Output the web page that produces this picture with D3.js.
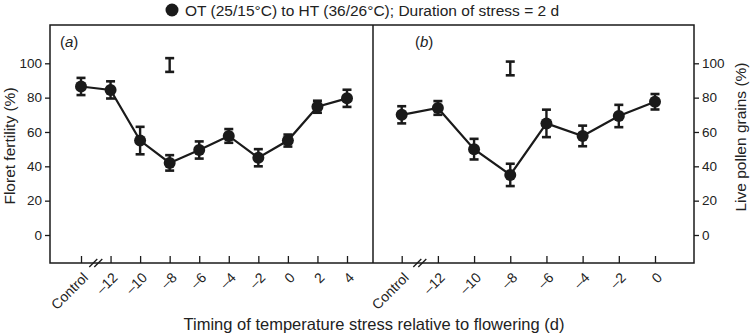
<!DOCTYPE html>
<meta charset="utf-8">
<style>
body { margin: 0; background: #fff; }
svg { font-family: "Liberation Sans", Arial, sans-serif; }
</style>
<body>
<svg width="750" height="334"></svg>
<script src="https://d3js.org/d3.v7.min.js"></script>
<script>
// timing labels and positions (control drawn two days left of -12)
var ticksA = ["Control", "\u201312", "\u201310", "\u20138", "\u20136", "\u20134", "\u20132", "0", "2", "4"];
var daysA = [-14, -12, -10, -8, -6, -4, -2, 0, 2, 4];
var fertility = [86.5, 84.5, 55, 42, 49.5, 57.7, 45, 55, 74.7, 79.6];
var fertilityErr = [5, 5, 8, 4.5, 5, 4, 5, 3.5, 3.5, 5];

var ticksB = ["Control", "\u201312", "\u201310", "\u20138", "\u20136", "\u20134", "\u20132", "0"];
var daysB = [-14, -12, -10, -8, -6, -4, -2, 0];
var pollen = [70, 74, 50, 35, 65, 57.7, 69.3, 77.6];
var pollenErr = [5, 4, 6, 6.5, 8, 6, 6.5, 4.5];

// LSD bars shown above the curves
var lsdA = {day: -8, value: 99, err: 4};
var lsdB = {day: -8, value: 97, err: 4};

var yTicks = [0, 20, 40, 60, 80, 100];

var ink = "#1a1a1a";
var svg = d3.select("svg");

var top_ = 25, bottom = 263, left = 50, mid = 373, right = 694;

var y = d3.scaleLinear().domain([0, 100]).range([235, 63.3]);
var xA = d3.scaleLinear().domain([-14, 4]).range([81, 347]);
var xB = d3.scaleLinear().domain([-14, 0]).range([401.7, 655]);

// frame
svg.append("rect")
    .attr("x", left).attr("y", top_)
    .attr("width", right - left).attr("height", bottom - top_)
    .attr("fill", "none").attr("stroke", ink).attr("stroke-width", 1.5);
svg.append("line")
    .attr("x1", mid).attr("x2", mid).attr("y1", top_).attr("y2", bottom)
    .attr("stroke", ink).attr("stroke-width", 1.5);

// y axes
var yLeft = svg.append("g")
    .attr("transform", "translate(" + left + ",0)")
    .call(d3.axisLeft(y).tickValues(yTicks).tickSize(5).tickPadding(3));
var yRight = svg.append("g")
    .attr("transform", "translate(" + right + ",0)")
    .call(d3.axisRight(y).tickValues(yTicks).tickSize(5).tickPadding(3));
[yLeft, yRight].forEach(function(g) {
  g.select(".domain").remove();
  g.selectAll("line").attr("stroke", ink).attr("stroke-width", 1.3);
  g.selectAll("text").attr("fill", "#222").style("font-size", "13.5px").style("font-family", "inherit");
});

function xAxis(x, days, labels) {
  var g = svg.append("g")
      .attr("transform", "translate(0," + bottom + ")")
      .call(d3.axisBottom(x).tickValues(days).tickSize(-7)
        .tickFormat(function(d, i) { return labels[i]; }));
  g.select(".domain").remove();
  g.selectAll("line").attr("stroke", ink).attr("stroke-width", 1.3);
  g.selectAll("text")
      .attr("fill", "#222")
      .style("font-size", "14px").style("font-family", "inherit")
      .attr("text-anchor", "end")
      .attr("y", 0).attr("dy", "0.35em")
      .attr("transform", "translate(4,12) rotate(-45)");
  // axis break
  var bx = (x(-14) + x(-12)) / 2;
  [-2.5, 2.5].forEach(function(o) {
    svg.append("line")
        .attr("x1", bx + o - 4).attr("y1", bottom + 4)
        .attr("x2", bx + o + 4).attr("y2", bottom - 4)
        .attr("stroke", ink).attr("stroke-width", 1.3);
  });
}
xAxis(xA, daysA, ticksA);
xAxis(xB, daysB, ticksB);

function series(x, days, vals, errs, lsd) {
  var pts = days.map(function(d, i) { return {day: d, v: vals[i], e: errs[i]}; });
  svg.append("path")
      .datum(pts)
      .attr("fill", "none").attr("stroke", ink).attr("stroke-width", 2.2)
      .attr("d", d3.line().x(function(d) { return x(d.day); }).y(function(d) { return y(d.v); }));

  var bars = pts.concat([{day: lsd.day, v: lsd.value, e: lsd.err}]);
  var eb = svg.append("g").selectAll("g").data(bars).enter().append("g")
      .attr("stroke", ink);
  eb.append("line")
      .attr("x1", function(d) { return x(d.day); }).attr("x2", function(d) { return x(d.day); })
      .attr("y1", function(d) { return y(d.v + d.e); }).attr("y2", function(d) { return y(d.v - d.e); })
      .attr("stroke-width", 2.4);
  [1, -1].forEach(function(s) {
    eb.append("line")
        .attr("x1", function(d) { return x(d.day) - 4.5; }).attr("x2", function(d) { return x(d.day) + 4.5; })
        .attr("y1", function(d) { return y(d.v + s * d.e); }).attr("y2", function(d) { return y(d.v + s * d.e); })
        .attr("stroke-width", 2.6);
  });

  svg.append("g").selectAll("circle").data(pts).enter().append("circle")
      .attr("cx", function(d) { return x(d.day); })
      .attr("cy", function(d) { return y(d.v); })
      .attr("r", 6)
      .attr("fill", ink);
}
series(xA, daysA, fertility, fertilityErr, lsdA);
series(xB, daysB, pollen, pollenErr, lsdB);

// panel letters
[{x: 60, t: "a"}, {x: 415, t: "b"}].forEach(function(p) {
  var t = svg.append("text").attr("x", p.x).attr("y", 47)
      .attr("fill", "#222").style("font-size", "15px");
  t.append("tspan").text("(");
  t.append("tspan").style("font-style", "italic").text(p.t);
  t.append("tspan").text(")");
});

// legend
svg.append("circle").attr("cx", 172).attr("cy", 10).attr("r", 6.5).attr("fill", ink);
svg.append("text").attr("x", 185).attr("y", 15.5)
    .attr("fill", "#222").style("font-size", "15.5px")
    .text("OT (25/15\u00b0C) to HT (36/26\u00b0C); Duration of stress = 2 d");

// axis titles
svg.append("text")
    .attr("transform", "translate(15,146) rotate(-90)")
    .attr("text-anchor", "middle").attr("fill", "#222").style("font-size", "15.5px")
    .text("Floret fertility (%)");
svg.append("text")
    .attr("transform", "translate(746,137) rotate(-90)")
    .attr("text-anchor", "middle").attr("fill", "#222").style("font-size", "15.5px")
    .text("Live pollen grains (%)");
svg.append("text")
    .attr("x", 374).attr("y", 330)
    .attr("text-anchor", "middle").attr("fill", "#222").style("font-size", "16.5px")
    .text("Timing of temperature stress relative to flowering (d)");
</script>
</body>
